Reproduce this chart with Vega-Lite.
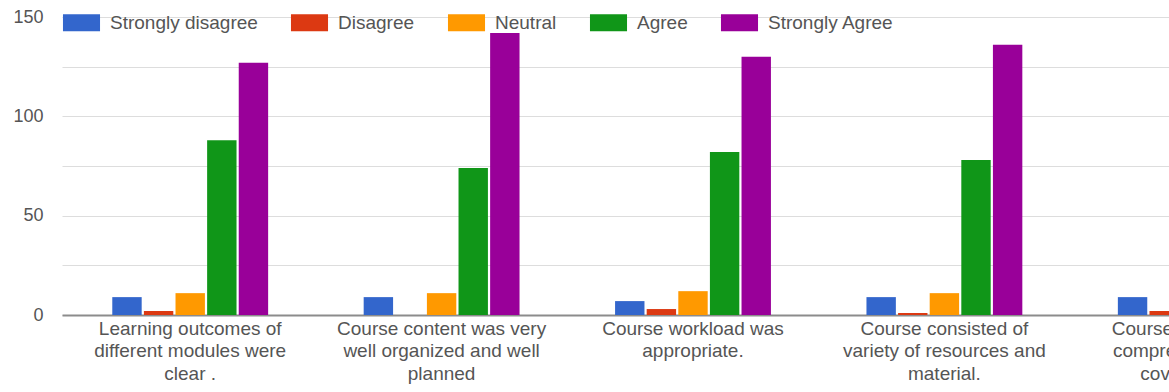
{
  "$schema": "https://vega.github.io/schema/vega-lite/v6.json",
  "width": 1107,
  "height": 298,
  "autosize": "none",
  "padding": {"left": 62, "top": 17, "right": 0, "bottom": 77},
  "background": "white",
  "config": {"view": {"stroke": null}, "font": "Liberation Sans"},
  "data": {
    "values": [
      {"q": "Learning outcomes of|different modules were|clear .", "r": "Strongly disagree", "n": 9},
      {"q": "Learning outcomes of|different modules were|clear .", "r": "Disagree", "n": 2},
      {"q": "Learning outcomes of|different modules were|clear .", "r": "Neutral", "n": 11},
      {"q": "Learning outcomes of|different modules were|clear .", "r": "Agree", "n": 88},
      {"q": "Learning outcomes of|different modules were|clear .", "r": "Strongly Agree", "n": 127},
      {"q": "Course content was very|well organized and well|planned", "r": "Strongly disagree", "n": 9},
      {"q": "Course content was very|well organized and well|planned", "r": "Disagree", "n": 0},
      {"q": "Course content was very|well organized and well|planned", "r": "Neutral", "n": 11},
      {"q": "Course content was very|well organized and well|planned", "r": "Agree", "n": 74},
      {"q": "Course content was very|well organized and well|planned", "r": "Strongly Agree", "n": 142},
      {"q": "Course workload was|appropriate.", "r": "Strongly disagree", "n": 7},
      {"q": "Course workload was|appropriate.", "r": "Disagree", "n": 3},
      {"q": "Course workload was|appropriate.", "r": "Neutral", "n": 12},
      {"q": "Course workload was|appropriate.", "r": "Agree", "n": 82},
      {"q": "Course workload was|appropriate.", "r": "Strongly Agree", "n": 130},
      {"q": "Course consisted of|variety of resources and|material.", "r": "Strongly disagree", "n": 9},
      {"q": "Course consisted of|variety of resources and|material.", "r": "Disagree", "n": 1},
      {"q": "Course consisted of|variety of resources and|material.", "r": "Neutral", "n": 11},
      {"q": "Course consisted of|variety of resources and|material.", "r": "Agree", "n": 78},
      {"q": "Course consisted of|variety of resources and|material.", "r": "Strongly Agree", "n": 136},
      {"q": "Course content was|comprehensive and|covered well.", "r": "Strongly disagree", "n": 9},
      {"q": "Course content was|comprehensive and|covered well.", "r": "Disagree", "n": 2}
    ]
  },
  "mark": {"type": "bar", "clip": true},
  "encoding": {
    "x": {
      "field": "q",
      "type": "nominal",
      "sort": null,
      "scale": {"range": [0, 1262], "paddingInner": 0.38, "paddingOuter": 0.2},
      "axis": {
        "title": null,
        "labelExpr": "split(datum.value, '|')",
        "labelAngle": 0,
        "labelFontSize": 19,
        "labelColor": "#555555",
        "labelLineHeight": 22.5,
        "labelBaseline": "top",
        "labelPadding": 4,
        "labelLimit": 0,
        "ticks": false,
        "domainColor": "#8c8c8c",
        "domainWidth": 2,
        "labelOverlap": false,
        "labelBound": false
      }
    },
    "xOffset": {
      "field": "r",
      "type": "nominal",
      "sort": ["Strongly disagree", "Disagree", "Neutral", "Agree", "Strongly Agree"],
      "scale": {"paddingInner": 0.07, "paddingOuter": 0}
    },
    "y": {
      "field": "n",
      "type": "quantitative",
      "scale": {"domain": [0, 150], "nice": false},
      "axis": {
        "title": null,
        "values": [0, 25, 50, 75, 100, 125, 150],
        "labelExpr": "datum.value % 50 == 0 ? datum.label : ''",
        "labelFontSize": 18,
        "labelColor": "#555555",
        "labelPadding": 19,
        "ticks": false,
        "domain": false,
        "gridColor": "#dddddd",
        "gridWidth": 1
      }
    },
    "color": {
      "field": "r",
      "type": "nominal",
      "scale": {
        "domain": ["Strongly disagree", "Disagree", "Neutral", "Agree", "Strongly Agree"],
        "range": ["#3366cc", "#dc3912", "#ff9900", "#109618", "#990099"]
      },
      "legend": {
        "orient": "none",
        "legendX": 10,
        "legendY": -4,
        "direction": "horizontal",
        "title": null,
        "padding": 0,
        "symbolType": "M-2.18,-1H2.18V1H-2.18Z",
        "symbolSize": 289,
        "symbolStrokeWidth": 0,
        "symbolOpacity": 1,
        "labelFontSize": 19,
        "labelColor": "#555555",
        "labelOffset": 19,
        "columnPadding": 32
      }
    }
  }
}
